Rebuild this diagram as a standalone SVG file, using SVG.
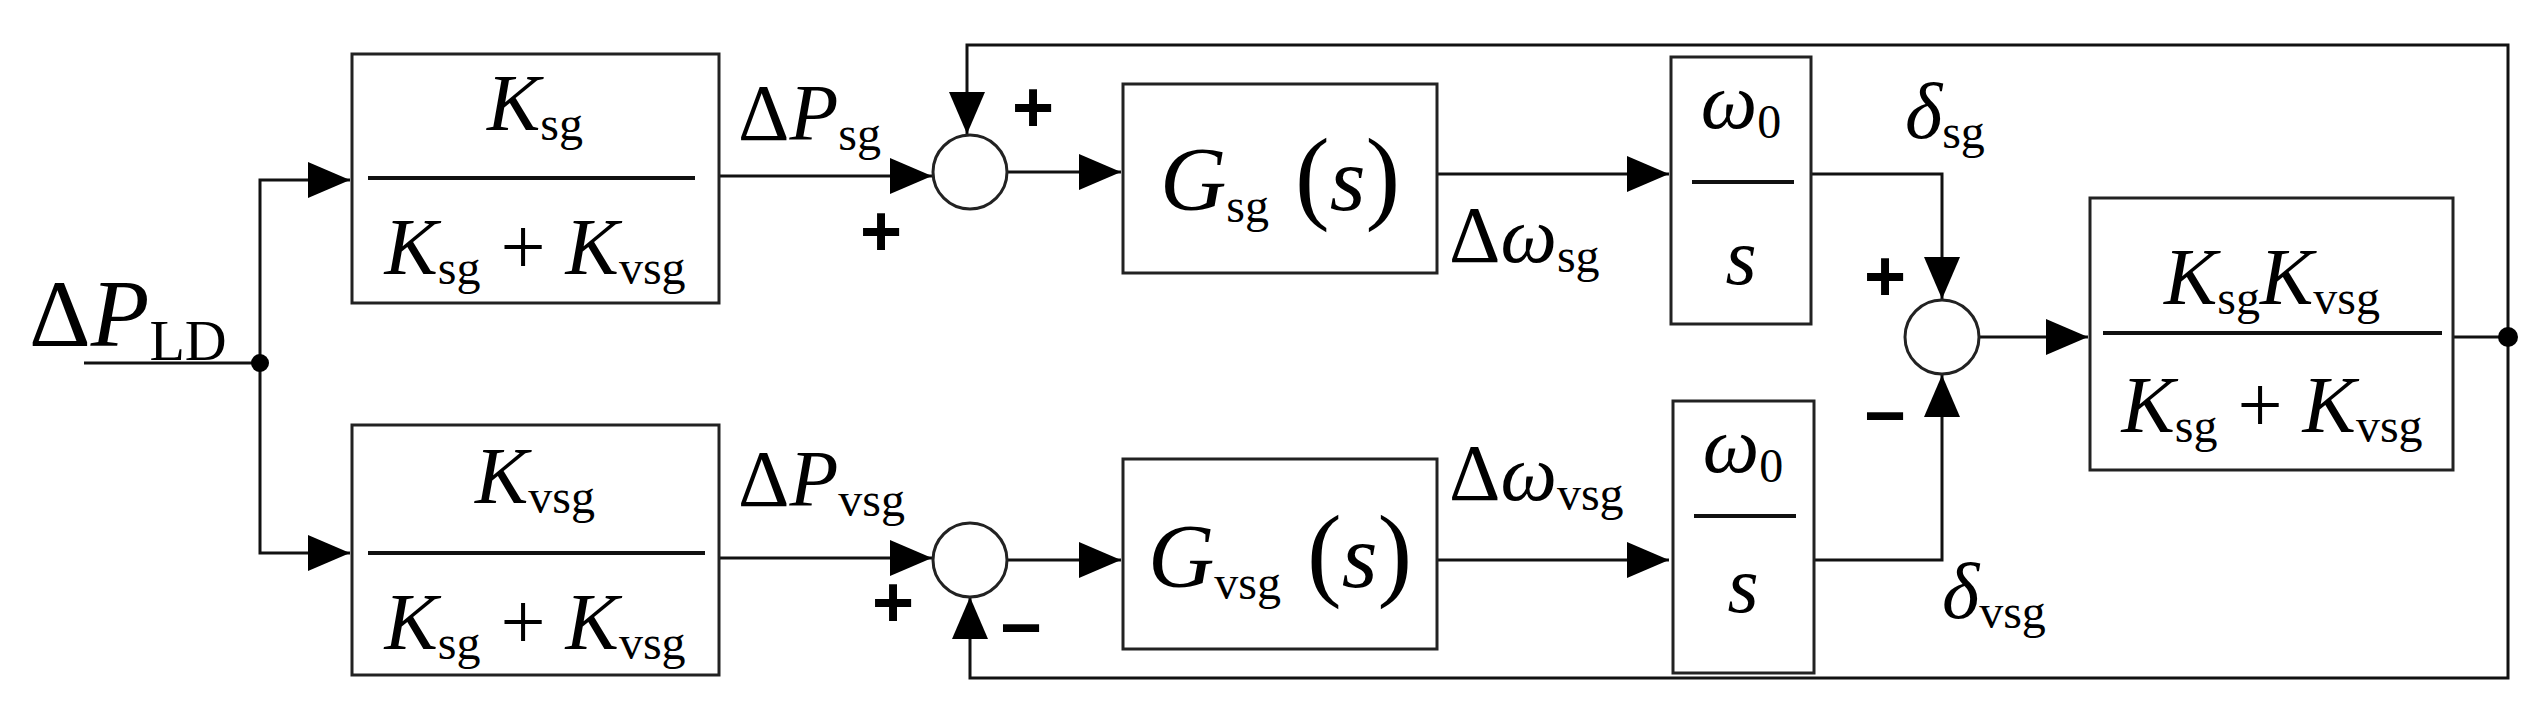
<svg xmlns="http://www.w3.org/2000/svg" width="2544" height="724" viewBox="0 0 2544 724" font-family="'Liberation Serif','Times New Roman','DejaVu Serif',serif">
<style>
.b{fill:#fff;stroke:#222;stroke-width:3}
.l{fill:none;stroke:#111;stroke-width:3}
.f{stroke:#111;stroke-width:4}
.t{font-family:'Liberation Serif','Times New Roman','DejaVu Serif',serif;fill:#000}
.v{font-style:italic}
.m{font-size:80px}
.sub{font-size:48px;font-style:normal}
.sg{font-family:'Liberation Sans',Arial,sans-serif;font-weight:bold;font-size:72px}
</style>
<defs>
<marker id="a" markerUnits="userSpaceOnUse" markerWidth="44" markerHeight="36" refX="42" refY="18" orient="auto"><path d="M0,0 L42,18 L0,36 Z" fill="#000"/></marker>
</defs>
<g id="connectors">
<path class="l" d="M84,363 H260"/>
<path class="l" d="M260,363 V180 H350" marker-end="url(#a)"/>
<path class="l" d="M260,363 V553 H350" marker-end="url(#a)"/>
<path class="l" d="M719,176 H932" marker-end="url(#a)"/>
<path class="l" d="M719,558 H932" marker-end="url(#a)"/>
<path class="l" d="M1007,172 H1121" marker-end="url(#a)"/>
<path class="l" d="M1007,560 H1121" marker-end="url(#a)"/>
<path class="l" d="M1437,174 H1669" marker-end="url(#a)"/>
<path class="l" d="M1437,560 H1669" marker-end="url(#a)"/>
<path class="l" d="M1811,174 H1942 V299" marker-end="url(#a)"/>
<path class="l" d="M1814,560 H1942 V375" marker-end="url(#a)"/>
<path class="l" d="M1979,337 H2088" marker-end="url(#a)"/>
<path class="l" d="M2453,337 H2508 V45 H967 V134" marker-end="url(#a)"/>
<path class="l" d="M2508,337 V678 H970 V597" marker-end="url(#a)"/>
<circle cx="260" cy="363" r="9" fill="#000"/>
<circle cx="2508" cy="337" r="10" fill="#000"/>
</g>
<g id="input"><text class="t" x="29" y="346" style="font-size:96px"><tspan>Δ</tspan><tspan class="v">P</tspan><tspan style="font-size:58px" dy="14">LD</tspan></text></g>
<g id="box1"><rect class="b" x="352" y="54" width="367" height="249"/>
<text x="535" y="130" class="t m" text-anchor="middle"><tspan class="v">K</tspan><tspan class="sub" dy="10">sg</tspan></text>
<line class="f" x1="368" y1="178" x2="695" y2="178"/>
<text x="535" y="274" class="t m" text-anchor="middle"><tspan class="v">K</tspan><tspan class="sub" dy="10">sg</tspan><tspan dy="-10"> + </tspan><tspan class="v">K</tspan><tspan class="sub" dy="10">vsg</tspan></text></g>
<g id="box2"><rect class="b" x="352" y="425" width="367" height="250"/>
<text x="535" y="503" class="t m" text-anchor="middle"><tspan class="v">K</tspan><tspan class="sub" dy="10">vsg</tspan></text>
<line class="f" x1="368" y1="553" x2="705" y2="553"/>
<text x="535" y="649" class="t m" text-anchor="middle"><tspan class="v">K</tspan><tspan class="sub" dy="10">sg</tspan><tspan dy="-10"> + </tspan><tspan class="v">K</tspan><tspan class="sub" dy="10">vsg</tspan></text></g>
<g id="sum1"><circle class="b" cx="970" cy="172" r="37"/></g>
<g id="sum2"><circle class="b" cx="970" cy="560" r="37"/></g>
<g id="sum3"><circle class="b" cx="1942" cy="337" r="37"/></g>
<g id="Gsg"><rect class="b" x="1123" y="84" width="314" height="189"/>
<text x="1280" y="210" class="t" text-anchor="middle" style="font-size:92px"><tspan class="v">G</tspan><tspan class="sub" dy="12">sg</tspan><tspan dy="-12" style="font-size:104px"> (</tspan><tspan class="v">s</tspan><tspan style="font-size:104px">)</tspan></text></g>
<g id="Gvsg"><rect class="b" x="1123" y="459" width="314" height="190"/>
<text x="1280" y="587" class="t" text-anchor="middle" style="font-size:92px"><tspan class="v">G</tspan><tspan class="sub" dy="12">vsg</tspan><tspan dy="-12" style="font-size:104px"> (</tspan><tspan class="v">s</tspan><tspan style="font-size:104px">)</tspan></text></g>
<g id="int1"><rect class="b" x="1671" y="57" width="140" height="267"/>
<text x="1741" y="128" class="t m" text-anchor="middle"><tspan class="v">ω</tspan><tspan class="sub" dy="10">0</tspan></text>
<line class="f" x1="1692" y1="182" x2="1794" y2="182"/>
<text x="1741" y="284" class="t m v" text-anchor="middle">s</text></g>
<g id="int2"><rect class="b" x="1673" y="401" width="141" height="272"/>
<text x="1743" y="472" class="t m" text-anchor="middle"><tspan class="v">ω</tspan><tspan class="sub" dy="10">0</tspan></text>
<line class="f" x1="1694" y1="516" x2="1796" y2="516"/>
<text x="1743" y="612" class="t m v" text-anchor="middle">s</text></g>
<g id="out"><rect class="b" x="2090" y="198" width="363" height="272"/>
<text x="2272" y="304" class="t m" text-anchor="middle"><tspan class="v">K</tspan><tspan class="sub" dy="10">sg</tspan><tspan class="v" dy="-10">K</tspan><tspan class="sub" dy="10">vsg</tspan></text>
<line class="f" x1="2103" y1="333" x2="2442" y2="333"/>
<text x="2272" y="432" class="t m" text-anchor="middle"><tspan class="v">K</tspan><tspan class="sub" dy="10">sg</tspan><tspan dy="-10"> + </tspan><tspan class="v">K</tspan><tspan class="sub" dy="10">vsg</tspan></text></g>
<g id="labels">
<text x="738" y="140" class="t m"><tspan>Δ</tspan><tspan class="v">P</tspan><tspan class="sub" dy="10">sg</tspan></text>
<text x="738" y="506" class="t m"><tspan>Δ</tspan><tspan class="v">P</tspan><tspan class="sub" dy="10">vsg</tspan></text>
<text x="1449" y="262" class="t m"><tspan>Δ</tspan><tspan class="v">ω</tspan><tspan class="sub" dy="10">sg</tspan></text>
<text x="1449" y="500" class="t m"><tspan>Δ</tspan><tspan class="v">ω</tspan><tspan class="sub" dy="10">vsg</tspan></text>
<text x="1905" y="138" class="t m"><tspan class="v">δ</tspan><tspan class="sub" dy="10">sg</tspan></text>
<text x="1942" y="618" class="t m"><tspan class="v">δ</tspan><tspan class="sub" dy="10">vsg</tspan></text>
<text x="1012" y="132" class="sg">+</text>
<text x="860" y="256" class="sg">+</text>
<text x="872" y="627" class="sg">+</text>
<text x="1000" y="652" class="sg">−</text>
<text x="1864" y="301" class="sg">+</text>
<text x="1864" y="440" class="sg">−</text>
</g>
</svg>
